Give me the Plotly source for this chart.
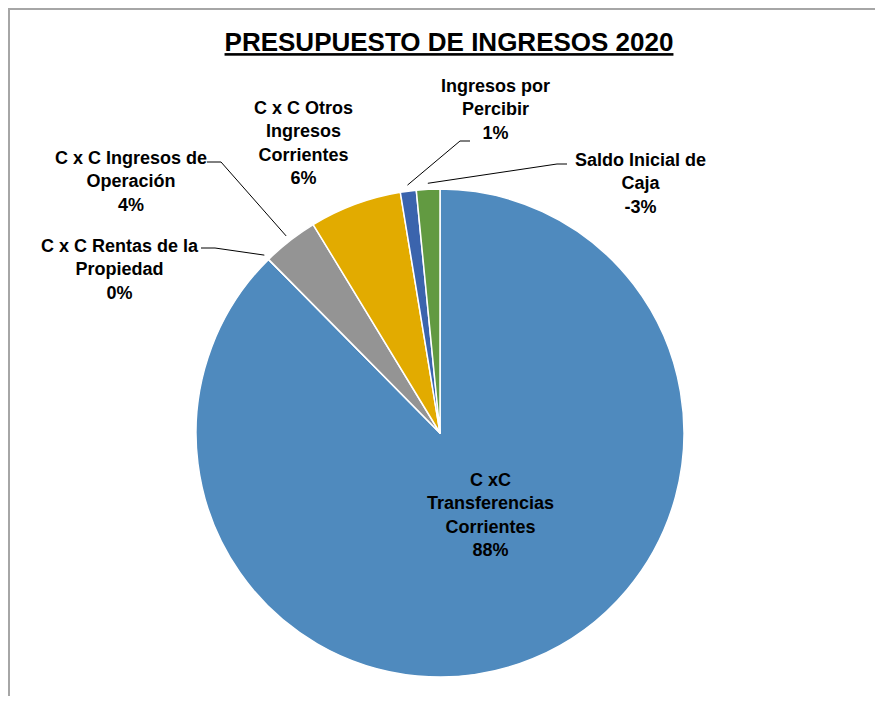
import math

import plotly.graph_objects as go

W, H = 883, 704
BODY = 8  # default page margin around the plot div

# slice order, clockwise from 12 o'clock
categories = [
    "C xC<br>Transferencias<br>Corrientes",
    "C x C Rentas de la<br>Propiedad",
    "C x C Ingresos de<br>Operación",
    "C x C Otros<br>Ingresos<br>Corrientes",
    "Ingresos por<br>Percibir",
    "Saldo Inicial de<br>Caja",
]
slice_sizes = [87.6, 0.0, 3.7, 6.1, 1.05, 1.55]  # share of the circle (%)
shown_pct = ["88%", "0%", "4%", "6%", "1%", "-3%"]
colors = ["#4F8ABE", "#949494", "#949494", "#E2AB00", "#3B64AD", "#629A41"]

FONT = "Liberation Sans Narrow, Arial Narrow, Liberation Sans, Arial"

# pie geometry in page pixels
CX, CY, RAD = 440, 433, 244
FW, FH = W - 2 * BODY, H - 2 * BODY


def px(x):
    return (x - BODY) / FW


def py(y):
    return 1 - (y - BODY) / FH


def edge_point(i, r=250):
    total = sum(slice_sizes)
    before = sum(slice_sizes[:i])
    a = math.radians(360 * (before + slice_sizes[i] / 2) / total)
    return CX + r * math.sin(a), CY - r * math.cos(a)


fig = go.Figure(
    go.Pie(
        labels=categories,
        values=slice_sizes,
        textinfo="none",
        sort=False,
        direction="clockwise",
        rotation=0,
        marker=dict(colors=colors, line=dict(color="white", width=1.5)),
        domain=dict(x=[px(CX - RAD), px(CX + RAD)], y=[py(CY + RAD), py(CY - RAD)]),
        hoverinfo="label+percent",
        showlegend=False,
    )
)

# labels: (slice index, label centre x, centre y, leader start, leader elbow)
placed = [
    (0, 490, 515, None, None),
    (1, 120, 269, (201, 248), (215, 248)),
    (2, 131, 181, (207, 162), (221, 162)),
    (3, 303, 143, None, None),
    (4, 495, 109, (470, 141), (460, 141)),
    (5, 640, 183, (567, 164), (557, 164)),
]

shapes = []
for i, lx, ly, start, elbow in placed:
    fig.add_annotation(
        text=f"{categories[i]}<br>{shown_pct[i]}",
        x=px(lx), y=py(ly), xref="paper", yref="paper",
        xanchor="center", yanchor="middle", showarrow=False,
        font=dict(family=FONT, size=18, color="black", weight="bold"),
    )
    if start is not None:
        ex, ey = edge_point(i)
        path = f"M {px(start[0])} {py(start[1])} L {px(elbow[0])} {py(elbow[1])} L {px(ex)} {py(ey)}"
        shapes.append(dict(type="path", path=path, xref="paper", yref="paper",
                           line=dict(color="black", width=1)))

# chart border (only top and left edges are visible)
shapes.append(dict(type="line", xref="paper", yref="paper", x0=0, x1=1, y0=py(9), y1=py(9),
                   line=dict(color="#A6A6A6", width=2)))
shapes.append(dict(type="line", xref="paper", yref="paper", x0=px(9), x1=px(9), y0=0, y1=py(9),
                   line=dict(color="#A6A6A6", width=2)))

fig.update_layout(
    width=FW,
    height=FH,
    margin=dict(l=0, r=0, t=0, b=0),
    paper_bgcolor="white",
    plot_bgcolor="white",
    shapes=shapes,
    title=dict(
        text="<u>PRESUPUESTO DE INGRESOS 2020</u>",
        x=px(449), xanchor="center", y=py(42), yanchor="middle", yref="container",
        font=dict(family=FONT, size=26, color="black", weight="bold"),
    ),
)

fig.write_html("out.html")
